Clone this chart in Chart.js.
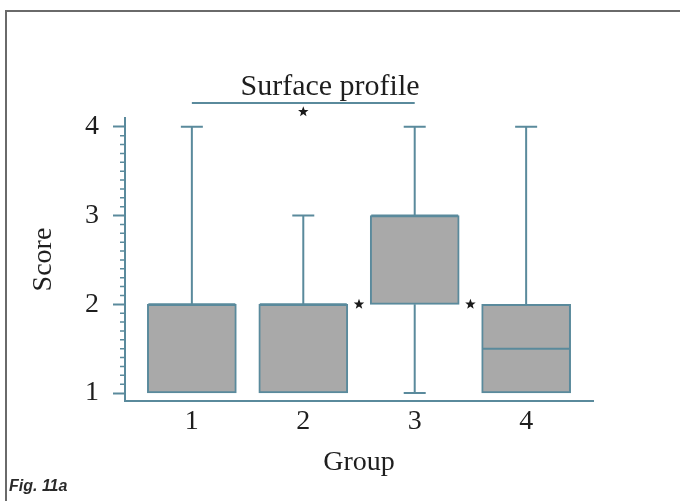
<!DOCTYPE html>
<html>
<head>
<meta charset="utf-8">
<script src="https://cdn.jsdelivr.net/npm/chart.js@4"></script>
<style>
  html, body { margin: 0; padding: 0; background: #fff; overflow: hidden; }
  #frame { position: absolute; left: 5px; top: 10px; width: 720px; height: 600px; border: 2px solid #6a6a6a; }
  #wrap { position: absolute; left: 0; top: 0; width: 680px; height: 501px; }
  #fig { position: absolute; left: 9px; top: 477px; font: italic bold 16px "Liberation Sans", Arial, sans-serif; color: #2a2a2a; }
</style>
</head>
<body>
<div id="frame"></div>
<div id="wrap"><canvas id="boxChart" width="680" height="501"></canvas></div>
<div id="fig">Fig. 11a</div>
<script>
// Données
const groups = ['1', '2', '3', '4'];
const groupPos = [1, 2, 3, 4];
const q1 = [1, 1, 2, 1];
const q3 = [2, 2, 3, 2];
const medians = [2, 2, 3, 1.5];
const whiskerLow = [1, 1, 1, 1];
const whiskerHigh = [4, 3, 4, 4];
const yTicks = [1, 2, 3, 4];

// Barre de significativité et étoiles
const sigFrom = [1];
const sigTo = [3];
const sigLevel = [4.27];
const starX = [2, 2.5, 3.5];
const starY = [4.17, 2, 2];

const teal = '#5a8a9c';
const serif = 'Liberation Serif';

// Moustaches, médianes, étoiles et ticks mineurs
const boxExtras = {
  id: 'boxExtras',
  afterDatasetsDraw(chart) {
    const ctx = chart.ctx;
    const xs = chart.scales.x;
    const ys = chart.scales.y;
    const half = 44.5;
    const cap = 11;
    ctx.save();
    ctx.strokeStyle = teal;
    ctx.lineWidth = 2;

    groupPos.forEach((g, i) => {
      const cx = xs.getPixelForValue(g);
      ctx.beginPath();
      if (whiskerHigh[i] > q3[i]) {
        const top = ys.getPixelForValue(whiskerHigh[i]);
        ctx.moveTo(cx, ys.getPixelForValue(q3[i]));
        ctx.lineTo(cx, top);
        ctx.moveTo(cx - cap, top);
        ctx.lineTo(cx + cap, top);
      }
      if (whiskerLow[i] < q1[i]) {
        const bot = ys.getPixelForValue(whiskerLow[i]);
        ctx.moveTo(cx, ys.getPixelForValue(q1[i]));
        ctx.lineTo(cx, bot);
        ctx.moveTo(cx - cap, bot);
        ctx.lineTo(cx + cap, bot);
      }
      const my = ys.getPixelForValue(medians[i]);
      ctx.moveTo(cx - half + 1, my);
      ctx.lineTo(cx + half - 1, my);
      ctx.stroke();
    });

    // barre de comparaison
    sigFrom.forEach((f, i) => {
      const y = ys.getPixelForValue(sigLevel[i]);
      ctx.beginPath();
      ctx.moveTo(xs.getPixelForValue(f), y);
      ctx.lineTo(xs.getPixelForValue(sigTo[i]), y);
      ctx.stroke();
    });

    // ticks mineurs de l'axe y
    ctx.lineWidth = 1.5;
    ctx.beginPath();
    for (let k = 10; k <= 40; k++) {
      if (k % 10 === 0) continue;
      const y = ys.getPixelForValue(k / 10);
      ctx.moveTo(xs.left - 5, y);
      ctx.lineTo(xs.left, y);
    }
    ctx.stroke();

    // étoiles
    ctx.fillStyle = '#1a1a1a';
    starX.forEach((sx, i) => {
      const px = xs.getPixelForValue(sx);
      const py = ys.getPixelForValue(starY[i]);
      ctx.beginPath();
      for (let p = 0; p < 10; p++) {
        const r = p % 2 === 0 ? 5.5 : 2.3;
        const a = -Math.PI / 2 + p * Math.PI / 5;
        const x = px + r * Math.cos(a);
        const y = py + r * Math.sin(a);
        if (p === 0) ctx.moveTo(x, y); else ctx.lineTo(x, y);
      }
      ctx.closePath();
      ctx.fill();
    });
    ctx.restore();
  }
};

new Chart(document.getElementById('boxChart'), {
  type: 'bar',
  data: {
    datasets: [{
      data: groupPos.map((g, i) => ({ x: g, y: [q1[i], q3[i]] })),
      backgroundColor: '#a9a9a9',
      borderColor: teal,
      borderWidth: 2,
      borderSkipped: false,
      barThickness: 89
    }]
  },
  options: {
    responsive: false,
    animation: false,
    layout: { padding: { left: 67, right: 87, top: 0, bottom: 20 } },
    plugins: {
      legend: { display: false },
      tooltip: { enabled: false },
      title: {
        display: true,
        text: 'Surface profile',
        color: '#1e1e1e',
        font: { family: serif, size: 30, weight: 'normal' },
        padding: { top: 69, bottom: 13 }
      }
    },
    scales: {
      x: {
        type: 'linear',
        offset: false,
        min: 0.4,
        max: 4.6,
        afterBuildTicks: scale => { scale.ticks = groupPos.map(v => ({ value: v })); },
        afterFit: scale => { scale.height = 80; },
        grid: { display: false, offset: false },
        border: { display: true, color: teal, width: 2 },
        ticks: {
          padding: -4,
          color: '#1e1e1e',
          font: { family: serif, size: 28 },
          callback: v => groups[groupPos.indexOf(v)]
        },
        title: {
          display: true,
          text: 'Group',
          color: '#1e1e1e',
          font: { family: serif, size: 28 },
          padding: { top: 0, bottom: 2 }
        }
      },
      y: {
        min: 0.91,
        max: 4.1,
        afterBuildTicks: scale => { scale.ticks = yTicks.map(v => ({ value: v })); },
        afterFit: scale => { scale.width = 58; },
        grid: { display: true, drawOnChartArea: false, tickLength: 12, tickColor: teal, tickWidth: 2 },
        border: { display: true, color: teal, width: 2 },
        ticks: {
          padding: 14,
          color: '#1e1e1e',
          font: { family: serif, size: 28 }
        },
        title: {
          display: true,
          text: 'Score',
          color: '#1e1e1e',
          font: { family: serif, size: 28 },
          padding: { top: -40, bottom: 0 }
        }
      }
    }
  },
  plugins: [boxExtras]
});
</script>
</body>
</html>
